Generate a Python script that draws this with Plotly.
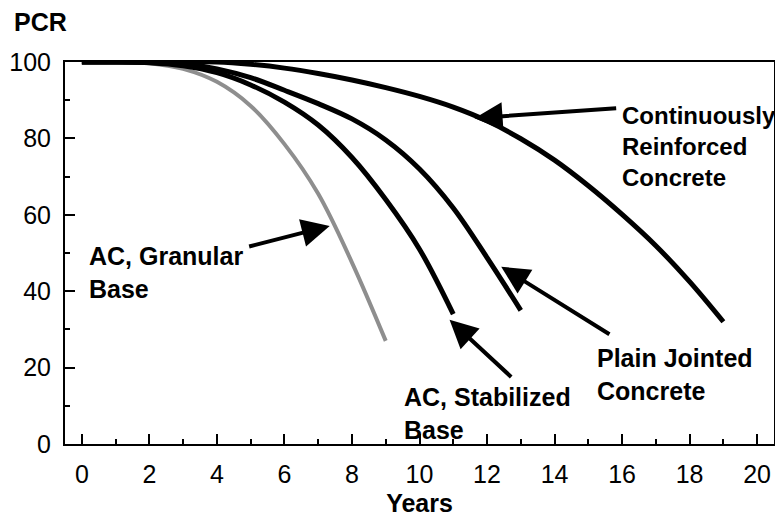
import plotly.graph_objects as go

# ---- data ----
years_granular = [0, 1, 2, 3, 4, 5, 6, 7, 8, 9]
pcr_granular = [100, 100, 99.7, 98.2, 94.8, 88.5, 78.5, 65.5, 47.5, 27]

years_stabilized = [0, 1, 2, 3, 4, 5, 6, 7, 8, 9, 10, 11]
pcr_stabilized = [100, 100, 99.8, 99.0, 97.2, 94.0, 89.5, 83.5, 75.0, 64.0, 51.0, 34.0]

years_plain = [0, 1, 2, 3, 4, 5, 6, 7, 8, 9, 10, 11, 12, 13]
pcr_plain = [100, 100, 99.9, 99.6, 98.2, 95.9, 92.6, 89.1, 85.1, 79.6, 72.0, 61.8, 48.8, 35.0]

years_crc = [0, 1, 2, 3, 4, 5, 6, 7, 8, 9, 10, 11, 12, 13, 14, 15, 16, 17, 18, 19]
pcr_crc = [100, 100, 100, 100, 100, 99.4, 98.4, 97.0, 95.3, 93.3, 91.0, 88.2, 84.6, 79.9,
           74.3, 67.6, 60.1, 51.9, 42.5, 32.0]

x_ticks = [0, 2, 4, 6, 8, 10, 12, 14, 16, 18, 20]
y_ticks = [0, 20, 40, 60, 80, 100]

labels = ["AC, Granular<br>Base", "AC, Stabilized<br>Base",
          "Plain Jointed<br>Concrete", "Continuously<br>Reinforced<br>Concrete"]
label_sizes = [25, 25, 25, 24]
label_x = [0.18, 9.5, 15.24, 15.98]
label_y = [44.8, 7.9, 18.3, 77.9]
arrow_tip_x = [7.34, 10.89, 12.42, 11.63]
arrow_tip_y = [57.1, 32.5, 46.4, 85.3]
arrow_tail_x = [4.91, 12.76, 15.67, 15.87]
arrow_tail_y = [51.6, 17.2, 28.5, 87.9]

FONT = "Liberation Sans, Arial, Helvetica, sans-serif"

fig = go.Figure()
fig.add_trace(go.Scatter(x=years_granular, y=pcr_granular, mode="lines",
                         line=dict(color="#8e8e8e", width=4, shape="spline"),
                         showlegend=False, hoverinfo="skip"))
for xs, ys in [(years_stabilized, pcr_stabilized), (years_plain, pcr_plain),
               (years_crc, pcr_crc)]:
    fig.add_trace(go.Scatter(x=xs, y=ys, mode="lines",
                             line=dict(color="black", width=5, shape="spline"),
                             showlegend=False, hoverinfo="skip"))

annotations = []
for tx, ty, hx, hy in zip(arrow_tail_x, arrow_tail_y, arrow_tip_x, arrow_tip_y):
    annotations.append(dict(x=hx, y=hy, ax=tx, ay=ty, xref="x", yref="y",
                            axref="x", ayref="y", text="", showarrow=True,
                            arrowhead=2, arrowsize=1.4, arrowwidth=4,
                            arrowcolor="black", standoff=0))
for txt, sz, lx, ly in zip(labels, label_sizes, label_x, label_y):
    annotations.append(dict(x=lx, y=ly, xref="x", yref="y", text="<b>" + txt + "</b>",
                            showarrow=False, xanchor="left", yanchor="middle",
                            align="left", font=dict(family=FONT, size=sz, color="black"),
                            borderpad=0))
annotations.append(dict(x=-0.0748, y=1.105, xref="paper", yref="paper",
                        text="<b>PCR</b>", showarrow=False, xanchor="left",
                        yanchor="middle", font=dict(family=FONT, size=25, color="black")))

# page body has an 8px margin, so the figure is sized to fit the window
fig.update_layout(
    width=775, height=510,
    margin=dict(l=57, r=9, t=54, b=74, autoexpand=False),
    paper_bgcolor="white", plot_bgcolor="white",
    font=dict(family=FONT, size=25, color="black"),
    annotations=annotations,
    xaxis=dict(range=[-0.5, 20.5], tickmode="array", tickvals=x_ticks,
               automargin=False,
               ticks="inside", ticklen=10, tickwidth=1.5, tickcolor="black",
               minor=dict(ticks="inside", ticklen=5, tickwidth=1.5, dtick=1,
                          tick0=0, tickcolor="black"),
               showline=True, linecolor="black", linewidth=2, mirror=True,
               showgrid=False, zeroline=False, ticklabelstandoff=7,
               tickfont=dict(family=FONT, size=25),
               title=dict(text="<b>Years</b>", standoff=7,
                          font=dict(family=FONT, size=25))),
    yaxis=dict(range=[0, 100], tickmode="array", tickvals=y_ticks,
               automargin=False,
               ticks="inside", ticklen=10, tickwidth=1.5, tickcolor="black",
               minor=dict(ticks="inside", ticklen=5, tickwidth=1.5, dtick=10,
                          tick0=0, tickcolor="black"),
               showline=True, linecolor="black", linewidth=2, mirror=True,
               showgrid=False, zeroline=False, ticklabelstandoff=7,
               tickfont=dict(family=FONT, size=25)),
)

fig.write_html("out.html")
